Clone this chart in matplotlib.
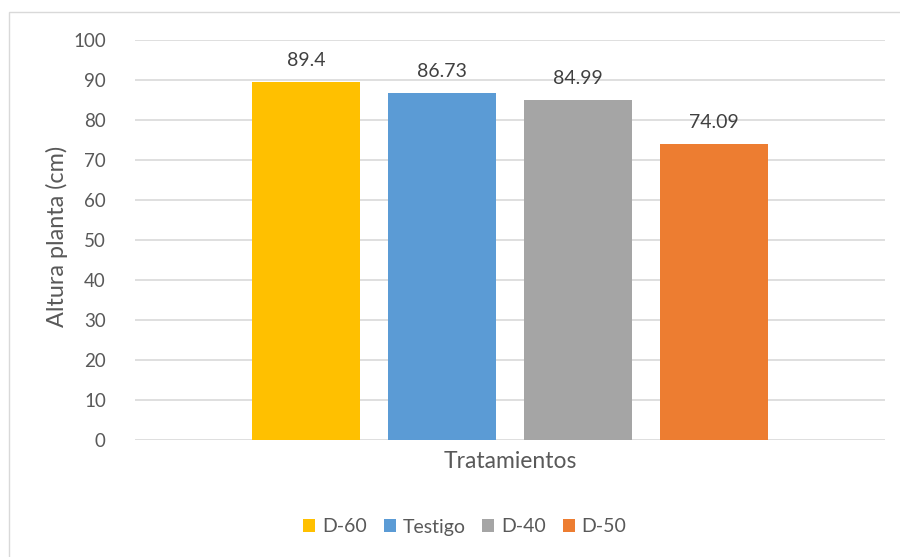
import matplotlib.pyplot as plt
from matplotlib.patches import Rectangle

# data
series = ["D-60", "Testigo", "D-40", "D-50"]
values = [89.4, 86.73, 84.99, 74.09]
labels = ["89.4", "86.73", "84.99", "74.09"]
colors = ["#FFC000", "#5B9BD5", "#A5A5A5", "#ED7D31"]
category = "Tratamientos"

plt.rcParams['font.family'] = ['Lato', 'DejaVu Sans']
txt = "#595959"

fig = plt.figure(figsize=(9, 5.57), dpi=100)
ax = fig.add_axes([135 / 900, 117 / 557, 750 / 900, 400 / 557])

# outer chart border
fig.patches.append(Rectangle((9 / 900, -0.1), 1.2, (557 - 12) / 557 + 0.1,
                             transform=fig.transFigure, fill=False,
                             edgecolor="#d9d9d9", linewidth=1))

bw = 108 / 750
gap = 28 / 750
start = 0.5 - (len(values) * bw + (len(values) - 1) * gap) / 2
for i, (s, v, lab, c) in enumerate(zip(series, values, labels, colors)):
    x = start + i * (bw + gap) + bw / 2
    ax.bar(x, v, width=bw, color=c, label=s, zorder=3)
    ax.text(x, v + 4, lab, ha="center", va="baseline", fontsize=14, color="#404040")

ax.set_xlim(0, 1)
ax.set_ylim(0, 100)
ax.set_yticks(range(0, 101, 10))
ax.tick_params(axis="y", length=0, labelsize=13.5, labelcolor=txt, pad=21)
ax.set_xticks([0.5])
ax.set_xticklabels([category], fontsize=16.5)
ax.tick_params(axis="x", length=0, labelcolor=txt, pad=8)
ax.grid(axis="y", color="#d9d9d9", linewidth=1.2, zorder=0)
for sp in ax.spines.values():
    sp.set_visible(False)
ax.set_ylabel("Altura planta (cm)", fontsize=16.8, color=txt, va="center")
ax.yaxis.set_label_coords((57 - 135) / 750, 0.51)

fig.legend(loc="center", bbox_to_anchor=(465 / 900, 1 - 527 / 557), ncol=4, frameon=False,
           fontsize=14, labelcolor=txt, handlelength=0.62, handleheight=0.62,
           handletextpad=0.36, columnspacing=0.85)

fig.savefig("out.png", dpi=100)
